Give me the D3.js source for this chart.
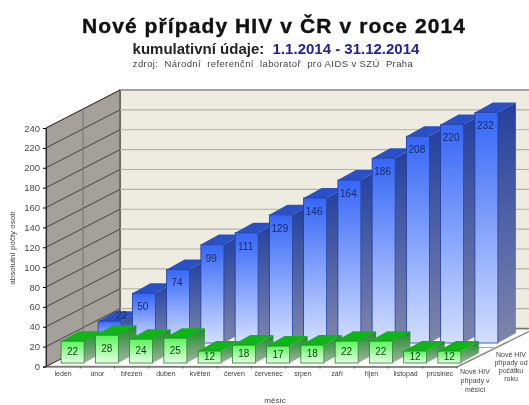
<!DOCTYPE html>
<html>
<head>
<meta charset="utf-8">
<script src="https://cdn.jsdelivr.net/npm/d3@7"></script>
<style>
html, body { margin: 0; padding: 0; background: #fff; overflow: hidden; }
svg { display: block; filter: blur(0.45px); font-family: "Liberation Sans", Arial, sans-serif; }
.pre { white-space: pre; }
</style>
</head>
<body>
<div id="chart"></div>
<script>
var months = ['leden', 'únor', 'březen', 'duben', 'květen', 'červen', 'červenec', 'srpen', 'září', 'říjen', 'listopad', 'prosinec'];
var monthly = [22, 28, 24, 25, 12, 18, 17, 18, 22, 22, 12, 12];
var cumulative = [22, 50, 74, 99, 111, 129, 146, 164, 186, 208, 220, 232];
var yTicks = d3.range(0, 241, 20);
var monthlyLabel = ['Nové HIV', 'případy v', 'měsíci'];
var cumulativeLabel = ['Nové HIV', 'případy od', 'počátku', 'roku'];

var dim = { 'width': 529, 'height': 405 };

// the 3d box: front floor edge, plus how far the back wall is shifted
var box = { 'left': 46, 'right': 457, 'bottom': 366.5, 'top': 128, 'dx': 74, 'dy': -38 };
var bar = { 'width': 23, 'dx': 18, 'dy': -10 };

var xScale = d3.scaleBand().domain(months).range([box.left, box.right]);
var yScale = d3.scaleLinear().domain([0, 240]).range([box.bottom, box.top]);

var svg = d3.select('#chart').append('svg')
    .attr('width', dim.width)
    .attr('height', dim.height);

var defs = svg.append('defs');

function addGradient(id, top, bottom) {
    var g = defs.append('linearGradient').attr('id', id)
        .attr('x1', 0).attr('y1', 0).attr('x2', 0).attr('y2', 1);
    g.append('stop').attr('offset', '0%').attr('stop-color', top);
    g.append('stop').attr('offset', '100%').attr('stop-color', bottom);
}
addGradient('blueFront', '#3566f6', '#d3dfff');
addGradient('blueSide', '#23409f', '#7f86ab');
addGradient('greenFront', '#5cf45c', '#e6ffe6');
addGradient('greenSide', '#1a8a26', '#a2b4a2');

function pts(list) {
    return list.map(p => p.join(',')).join(' ');
}

// walls and floor
var walls = svg.append('g');
var right = box.right + box.dx;

walls.append('polygon')
    .attr('points', pts([[box.left, box.bottom], [box.left + box.dx, box.bottom + box.dy], [right + 4, box.bottom + box.dy], [box.right, box.bottom + 0.5]]))
    .attr('fill', '#fbfbf8')
    .attr('stroke', '#8c8c84')
    .attr('stroke-width', 1.4);

walls.append('polygon')
    .attr('points', pts([[box.left + box.dx, box.top + box.dy], [right + 4, box.top + box.dy], [right + 4, box.bottom + box.dy], [box.left + box.dx, box.bottom + box.dy]]))
    .attr('fill', '#eeece0')
    .attr('stroke', '#77776f')
    .attr('stroke-width', 1.5);

walls.append('polygon')
    .attr('points', pts([[box.left, box.top], [box.left + box.dx, box.top + box.dy], [box.left + box.dx, box.bottom + box.dy], [box.left, box.bottom]]))
    .attr('fill', '#a3a199')
    .attr('stroke', '#3c3c38');

// gridlines go across the side wall and then along the back wall
yTicks.forEach(function (t) {
    if (t === 0) return;
    walls.append('line')
        .attr('x1', box.left).attr('y1', yScale(t))
        .attr('x2', box.left + box.dx).attr('y2', yScale(t) + box.dy)
        .attr('stroke', '#45453f');
    walls.append('line')
        .attr('x1', box.left + box.dx).attr('y1', yScale(t) + box.dy)
        .attr('x2', right + 4).attr('y2', yScale(t) + box.dy)
        .attr('stroke', '#b4b29f')
        .attr('stroke-width', 1.2);
});

// middle line of the side wall and floor
walls.append('line')
    .attr('x1', box.left + box.dx / 2).attr('y1', box.top + box.dy / 2)
    .attr('x2', box.left + box.dx / 2).attr('y2', box.bottom + box.dy / 2)
    .attr('stroke', '#7c7b74').attr('stroke-width', 1.2);
walls.append('line')
    .attr('x1', box.left + box.dx / 2).attr('y1', box.bottom + box.dy / 2)
    .attr('x2', box.right + box.dx / 2).attr('y2', box.bottom + box.dy / 2)
    .attr('stroke', '#a8a8a0');

// one row of bars, shift is where the row stands in the depth of the box
function drawRow(values, shiftX, shiftY, front, side, topColor, edge, textColor, labelY, labelDx) {
    var row = svg.append('g').selectAll('g')
        .data(values)
        .enter().append('g');

    var x0 = (d, i) => xScale(months[i]) + (xScale.bandwidth() - bar.width) / 2 + shiftX;
    var yTop = d => yScale(d) + shiftY;
    var yBase = box.bottom + shiftY;

    row.append('polygon')
        .attr('points', (d, i) => pts([
            [x0(d, i) + bar.width, yTop(d)],
            [x0(d, i) + bar.width + bar.dx, yTop(d) + bar.dy],
            [x0(d, i) + bar.width + bar.dx, yBase + bar.dy],
            [x0(d, i) + bar.width, yBase]]))
        .attr('fill', `url(#${side})`);

    row.append('polygon')
        .attr('points', (d, i) => pts([
            [x0(d, i), yTop(d)],
            [x0(d, i) + bar.dx, yTop(d) + bar.dy],
            [x0(d, i) + bar.width + bar.dx, yTop(d) + bar.dy],
            [x0(d, i) + bar.width, yTop(d)]]))
        .attr('fill', topColor);

    row.append('rect')
        .attr('x', (d, i) => x0(d, i))
        .attr('y', d => yTop(d))
        .attr('width', bar.width)
        .attr('height', d => yBase - yTop(d))
        .attr('fill', `url(#${front})`)
        .attr('stroke', edge)
        .attr('stroke-width', 0.8);

    row.append('text')
        .attr('x', (d, i) => x0(d, i) + bar.width / 2 + labelDx(d))
        .attr('y', d => labelY(d, yTop(d), yBase))
        .attr('text-anchor', 'middle')
        .attr('font-size', 10)
        .attr('fill', textColor)
        .text(d => d);
}

// the lowest blue bar is mostly behind the green one, so its label sits on the top face
drawRow(cumulative, 46.5, -23.5, 'blueFront', 'blueSide', '#2a50c6', '#1c3aa0', '#1a2a6a', (d, t, b) => d < 30 ? t - 2 : t + 17, d => d < 30 ? 12 : -1);
drawRow(monthly, 9.5, -3.5, 'greenFront', 'greenSide', '#0fb419', '#2f7a33', '#123f16', (d, t, b) => (t + b) / 2 + 3, d => 0);

// axes
var yAxis = d3.axisLeft(yScale).tickValues(yTicks).tickSize(3).tickPadding(3);
var yGroup = svg.append('g').attr('transform', `translate(${box.left},0)`).call(yAxis);
yGroup.selectAll('text').attr('font-size', 9.5).attr('font-family', 'inherit').attr('fill', '#4a4a4a');
yGroup.select('.domain').attr('stroke', '#222');

var xAxis = d3.axisBottom(xScale).tickSize(0).tickPadding(5);
var xGroup = svg.append('g').attr('transform', `translate(0,${box.bottom})`).call(xAxis);
xGroup.selectAll('text').attr('font-size', 7).attr('font-family', 'inherit').attr('fill', '#3c3c3c');
xGroup.select('.domain').attr('stroke', '#666');

// ticks sit on the edges of the month slots
xGroup.selectAll('.edge')
    .data(months)
    .enter().append('line')
    .attr('x1', d => xScale(d) + xScale.bandwidth())
    .attr('x2', d => xScale(d) + xScale.bandwidth())
    .attr('y1', 0).attr('y2', 2)
    .attr('stroke', '#555');

// labels of the two rows
function multiline(lines, x, y, step) {
    var t = svg.append('text')
        .attr('text-anchor', 'middle')
        .attr('font-size', 7)
        .attr('fill', '#444');
    lines.forEach(function (s, i) {
        t.append('tspan').attr('x', x).attr('y', y + i * step).text(s);
    });
}
multiline(monthlyLabel, 475, 374, 9);
multiline(cumulativeLabel, 511, 357, 8);

svg.append('text')
    .attr('transform', 'translate(15,248) rotate(-90)')
    .attr('text-anchor', 'middle')
    .attr('font-size', 8)
    .attr('fill', '#444')
    .text('absolutní počty osob');

svg.append('text')
    .attr('x', 275).attr('y', 403)
    .attr('text-anchor', 'middle')
    .attr('font-size', 8)
    .attr('fill', '#444')
    .text('měsíc');

// titles
svg.append('text')
    .attr('x', 274).attr('y', 33)
    .attr('text-anchor', 'middle')
    .attr('font-size', 21)
    .attr('font-weight', 'bold')
    .attr('letter-spacing', 1.1)
    .attr('fill', '#111')
    .attr('stroke', '#111')
    .attr('stroke-width', 0.4)
    .text('Nové případy HIV v ČR v roce 2014');

var sub = svg.append('text')
    .attr('class', 'pre')
    .attr('x', 276).attr('y', 54)
    .attr('text-anchor', 'middle')
    .attr('font-size', 15)
    .attr('font-weight', 'bold')
    .attr('fill', '#222');
sub.append('tspan').text('kumulativní údaje:  ');
sub.append('tspan').attr('fill', '#22229a').text('1.1.2014 - 31.12.2014');

svg.append('text')
    .attr('class', 'pre')
    .attr('x', 273).attr('y', 67)
    .attr('text-anchor', 'middle')
    .attr('font-size', 9.5)
    .attr('letter-spacing', 0.4)
    .attr('fill', '#444')
    .text('zdroj:  Národní  referenční  laboratoř  pro AIDS v SZÚ  Praha');
</script>
</body>
</html>
